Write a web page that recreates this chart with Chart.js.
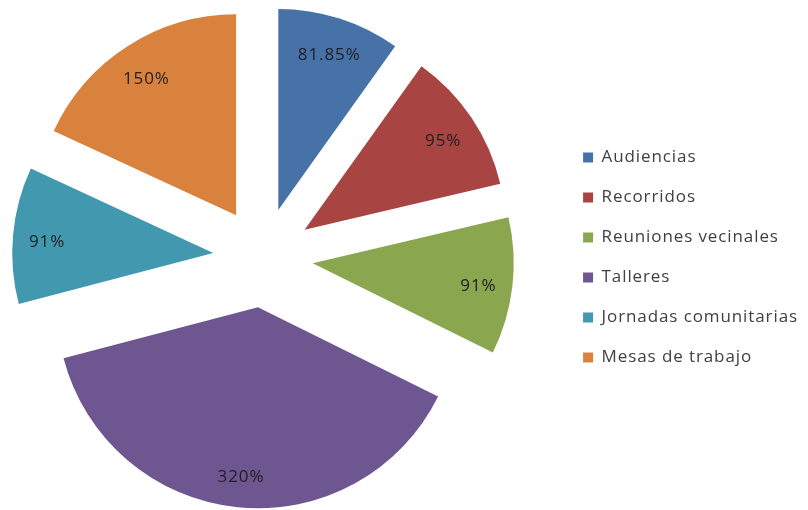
<!DOCTYPE html>
<html>
<head>
<meta charset="utf-8">
<script src="https://cdn.jsdelivr.net/npm/chart.js@4.4.0/dist/chart.umd.min.js"></script>
<style>
    html, body { margin: 0; padding: 0; background: #fff; overflow: hidden; }
    /* canvas runs a bit past the left edge so the pie sits where the original has it */
    #wrap { width: 842px; height: 510px; position: relative; margin-left: -34px; }
</style>
</head>
<body>
<div id="wrap"><canvas id="myChart"></canvas></div>
<script>
"use strict";

var categories = ['Audiencias', 'Recorridos', 'Reuniones vecinales', 'Talleres', 'Jornadas comunitarias', 'Mesas de trabajo'];
var values = [81.85, 95, 91, 320, 91, 150];
var colors = ['#4672A8', '#A84543', '#8AA64F', '#6E5690', '#4298AF', '#D9823D'];

var EXPLODE = 50; // distance each slice is pulled out

// the original text is quite loosely spaced, widen it a bit
var spacingPlugin = {
    id: 'spacing',
    beforeUpdate: function (chart) { chart.ctx.letterSpacing = '0.9px'; },
    beforeDraw: function (chart) { chart.ctx.letterSpacing = '0.9px'; }
};

// push every slice out along its middle angle, like an exploded Excel pie
var explodePlugin = {
    id: 'explode',
    afterDatasetsUpdate: function (chart) {
        var meta = chart.getDatasetMeta(0);
        meta.data.forEach(function (arc) {
            var mid = (arc.startAngle + arc.endAngle) / 2;
            arc.x += Math.cos(mid) * EXPLODE;
            arc.y += Math.sin(mid) * EXPLODE;
        });
    }
};

// value labels inside the slices
var labelPlugin = {
    id: 'sliceLabels',
    afterDatasetsDraw: function (chart) {
        var ctx = chart.ctx;
        var meta = chart.getDatasetMeta(0);
        ctx.save();
        ctx.font = '17px "Open Sans", sans-serif';
        ctx.fillStyle = '#1f1f1f';
        ctx.textAlign = 'center';
        ctx.textBaseline = 'middle';
        meta.data.forEach(function (arc, i) {
            var mid = (arc.startAngle + arc.endAngle) / 2;
            var r = arc.outerRadius * 0.83;
            ctx.fillText(values[i] + '%', arc.x + Math.cos(mid) * r, arc.y + Math.sin(mid) * r + 4);
        });
        ctx.restore();
    }
};

var ctx = document.getElementById('myChart').getContext('2d');
var myChart = new Chart(ctx, {
    type: 'pie',
    data: {
        labels: categories,
        datasets: [{
            data: values,
            backgroundColor: colors,
            borderWidth: 0,
            radius: 201
        }]
    },
    options: {
        responsive: true,
        maintainAspectRatio: false,
        animation: false,
        layout: {
            padding: { top: 5 }
        },
        plugins: {
            legend: {
                position: 'right',
                labels: {
                    boxWidth: 10,
                    boxHeight: 10,
                    padding: 23,
                    color: '#404040',
                    font: { family: '"Open Sans", sans-serif', size: 17 }
                }
            },
            tooltip: { enabled: false }
        }
    },
    plugins: [spacingPlugin, explodePlugin, labelPlugin]
});
</script>
</body>
</html>
